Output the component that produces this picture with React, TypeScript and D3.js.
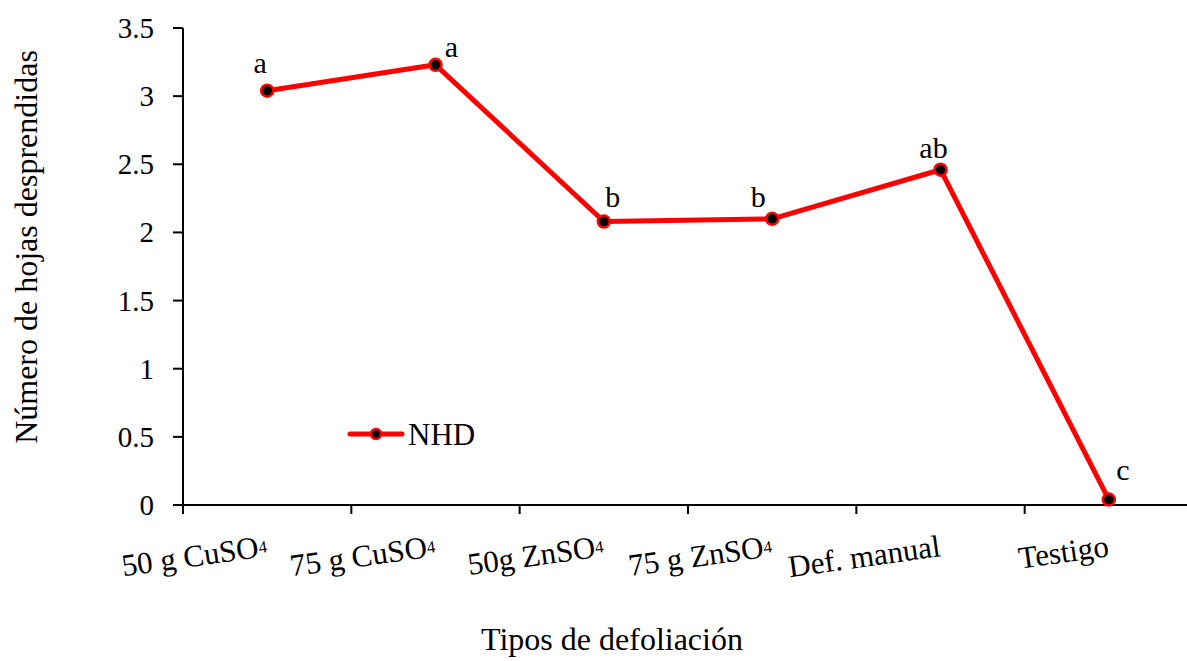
import React from "react";
import * as d3 from "d3";

// Treatments on the category axis; the chemical formulas end in a small "4"
const categories = ["50 g CuSO4", "75 g CuSO4", "50g ZnSO4", "75 g ZnSO4", "Def. manual", "Testigo"];
const labelMain = ["50 g CuSO", "75 g CuSO", "50g ZnSO", "75 g ZnSO", "Def. manual", "Testigo"];
const labelSub = ["4", "4", "4", "4", "", ""];

// Mean number of detached leaves (NHD) per treatment
const nhd = [3.04, 3.23, 2.08, 2.1, 2.46, 0.04];

// Mean-separation letters
const letters = ["a", "a", "b", "b", "ab", "c"];

const yTicks = [0, 0.5, 1, 1.5, 2, 2.5, 3, 3.5];

// Letter placement relative to its point (dx, dy)
const letterOffsets: [number, number][] = [
  [-7, -18],
  [16, -8],
  [9, -15],
  [-14, -12],
  [-7, -12],
  [14, -20],
];

const W = 1187;
const H = 661;
const FONT = "'Liberation Serif', 'Times New Roman', serif";

export default function App() {
  const x = d3.scaleBand<string>().domain(categories).range([183, 1193]).padding(0);
  const y = d3.scaleLinear().domain([0, 3.5]).range([505, 28]);
  const cx = (c: string) => (x(c) ?? 0) + x.bandwidth() / 2;

  const line = d3
    .line<number>()
    .x((_, i) => cx(categories[i]))
    .y((d) => y(d));

  const tickXs = [...categories.map((c) => x(c) ?? 0), 1193];

  return (
    <svg
      width={W}
      height={H}
      style={{ position: "absolute", left: 0, top: 0, background: "#fff" }}
      fontFamily={FONT}
    >
      {/* y axis */}
      <line x1={183} x2={183} y1={y(3.5)} y2={y(0)} stroke="#000" strokeWidth={2} />
      {yTicks.map((t) => (
        <g key={t}>
          <line x1={173} x2={183} y1={y(t)} y2={y(t)} stroke="#000" strokeWidth={2} />
          <text x={154} y={y(t) + 10} textAnchor="end" fontSize={29} fill="#000">
            {t}
          </text>
        </g>
      ))}

      {/* x axis */}
      <line x1={182} x2={W} y1={y(0)} y2={y(0)} stroke="#000" strokeWidth={2} />
      {tickXs.map((tx, i) => (
        <line key={i} x1={tx} x2={tx} y1={y(0)} y2={y(0) + 9} stroke="#000" strokeWidth={2} />
      ))}
      {categories.map((c, i) => {
        const px = cx(c) + 1;
        const py = 556;
        return (
          <text
            key={c}
            x={px}
            y={py}
            textAnchor="end"
            fontSize={31}
            fill="#000"
            transform={`rotate(-8 ${px} ${py})`}
          >
            {labelMain[i]}
            {labelSub[i] && (
              <tspan fontSize={17} dy={-4}>
                {labelSub[i]}
              </tspan>
            )}
          </text>
        );
      })}

      {/* axis titles */}
      <text x={612} y={650} textAnchor="middle" fontSize={32} fill="#000">
        Tipos de defoliación
      </text>
      <text
        transform={`translate(37 247) rotate(-90)`}
        textAnchor="middle"
        fontSize={32}
        fill="#000"
      >
        Número de hojas desprendidas
      </text>

      {/* series */}
      <path d={line(nhd) ?? ""} fill="none" stroke="#ff0000" strokeWidth={5} strokeLinejoin="round" />
      {nhd.map((v, i) => (
        <circle key={i} cx={cx(categories[i])} cy={y(v)} r={6} fill="#000" stroke="#ff0000" strokeWidth={2.5} />
      ))}
      {nhd.map((v, i) => (
        <text
          key={i}
          x={cx(categories[i]) + letterOffsets[i][0]}
          y={y(v) + letterOffsets[i][1]}
          textAnchor="middle"
          fontSize={30}
          fill="#000"
        >
          {letters[i]}
        </text>
      ))}

      {/* legend */}
      <line x1={350} x2={402} y1={434} y2={434} stroke="#ff0000" strokeWidth={5} strokeLinecap="round" />
      <circle cx={376} cy={434} r={5} fill="#000" stroke="#ff0000" strokeWidth={2.5} />
      <text x={408} y={445} fontSize={31} fill="#000">
        NHD
      </text>
    </svg>
  );
}
